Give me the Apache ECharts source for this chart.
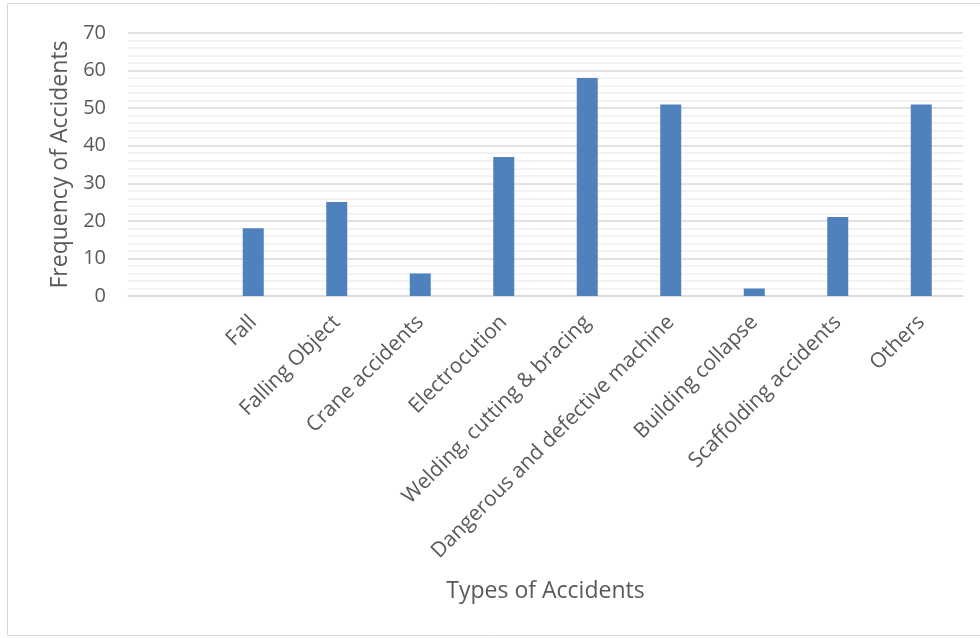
<!DOCTYPE html>
<html>
<head>
<meta charset="utf-8">
<script src="https://cdn.jsdelivr.net/npm/echarts@6/dist/echarts.min.js"></script>
<style>
  html, body { margin: 0; padding: 0; background: #fff; }
  #main { width: 980px; height: 638px; }
</style>
</head>
<body>
<div id="main"></div>
<script>
// first slot is blank in the original sheet
let categories = ['', 'Fall', 'Falling Object', 'Crane accidents', 'Electrocution',
    'Welding, cutting & bracing', 'Dangerous and defective machine',
    'Building collapse', 'Scaffolding accidents', 'Others'];
let frequency = [null, 18, 25, 6, 37, 58, 51, 2, 21, 51];
let yTicks = [0, 10, 20, 30, 40, 50, 60, 70];

let font = 'Open Sans';
let textColor = '#595959';

let myChart = echarts.init(document.getElementById('main'));

let option = {
    animation: false,
    textStyle: { fontFamily: font },
    graphic: [
        {
            type: 'rect',
            shape: { x: 7.5, y: 3.5, width: 990, height: 632 },
            style: { fill: 'none', stroke: '#d9d9d9', lineWidth: 1 }
        }
    ],
    grid: { left: 128, right: 17, top: 33, bottom: 342 },
    xAxis: {
        type: 'category',
        data: categories,
        name: 'Types of Accidents',
        nameLocation: 'middle',
        nameGap: 284,
        nameTextStyle: { color: textColor, fontSize: 23, fontFamily: font },
        axisLine: { lineStyle: { color: '#d9d9d9', width: 1.5 } },
        axisTick: { show: false },
        axisLabel: {
            interval: 0,
            rotate: 45,
            margin: 23,
            color: textColor,
            fontSize: 21,
            fontFamily: font
        }
    },
    yAxis: {
        type: 'value',
        min: yTicks[0],
        max: yTicks[yTicks.length - 1],
        interval: 10,
        name: 'Frequency of Accidents',
        nameLocation: 'middle',
        nameGap: 56,
        nameTextStyle: { color: textColor, fontSize: 23, fontFamily: font },
        axisLine: { show: false },
        axisTick: { show: false },
        axisLabel: { color: textColor, fontSize: 20, margin: 22, fontFamily: font },
        splitLine: { lineStyle: { color: '#d9d9d9', width: 1.5 } },
        minorTick: { show: false, splitNumber: 5 },
        minorSplitLine: { show: true, lineStyle: { color: '#f0f0f0', width: 1.5 } }
    },
    series: [
        {
            type: 'bar',
            data: frequency,
            barWidth: 21,
            itemStyle: { color: '#4f81bd' }
        }
    ]
};

myChart.setOption(option);
</script>
</body>
</html>
